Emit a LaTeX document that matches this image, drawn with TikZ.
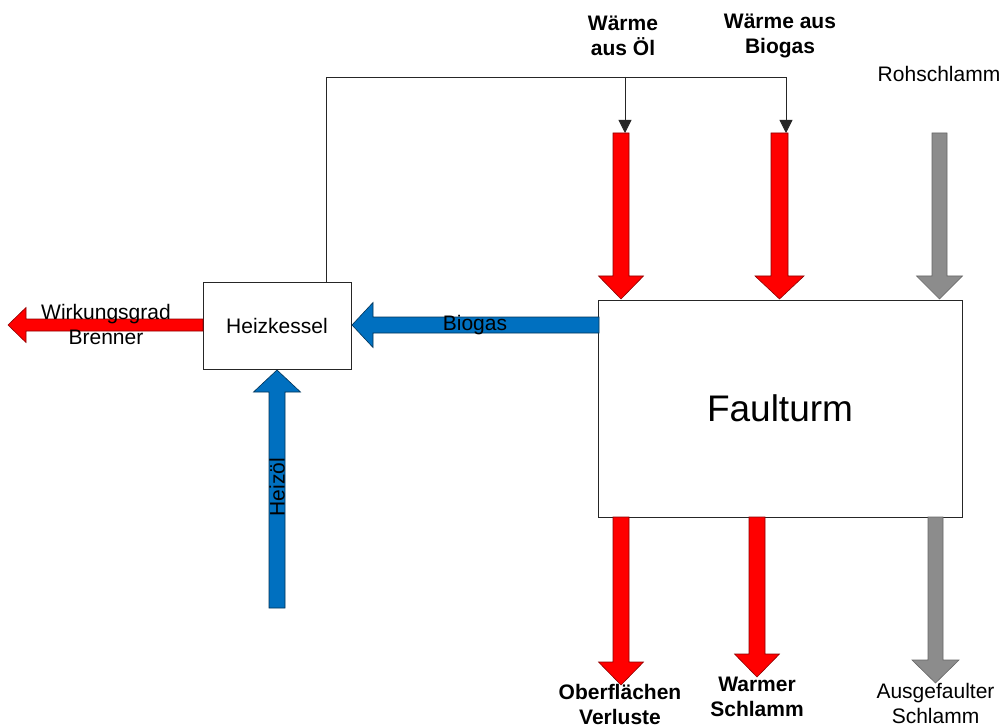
\documentclass[tikz,border=0pt]{standalone}
\usepackage{fontspec}
\setmainfont{Liberation Sans}
\usetikzlibrary{arrows.meta}
\definecolor{fred}{HTML}{FF0000}
\definecolor{fblue}{HTML}{0070C0}
\definecolor{fgray}{HTML}{8C8C8C}
% vertical block arrow: cx, ytail, ybase, ytip, shaft half width, head half width, style
\newcommand\VArrow[7]{%
 \draw[#7] ({#1-#5},#2) -- ({#1-#5},#3) -- ({#1-#6},#3) -- (#1,#4) -- ({#1+#6},#3) -- ({#1+#5},#3) -- ({#1+#5},#2) -- cycle;}
% horizontal block arrow: cy, xtail, xbase, xtip, shaft half width, head half width, style
\newcommand\HArrow[7]{%
 \draw[#7] (#2,{#1-#5}) -- (#3,{#1-#5}) -- (#3,{#1-#6}) -- (#4,#1) -- (#3,{#1+#6}) -- (#3,{#1+#5}) -- (#2,{#1+#5}) -- cycle;}
\tikzset{
  box/.style={draw=black!85, fill=white, line width=0.8pt, inner sep=0pt},
  lbl/.style={font=\fontsize{21}{25}\selectfont, align=center, inner sep=0pt},
  blbl/.style={font=\fontsize{21}{25}\selectfont\bfseries, align=center, inner sep=0pt},
  redarrow/.style={fill=fred, draw=red!55!black, line width=0.6pt},
  bluearrow/.style={fill=fblue, draw=fblue!45!black, line width=0.6pt},
  grayarrow/.style={fill=fgray, draw=black!60, line width=0.6pt},
  conn/.style={draw=black!85, line width=0.8pt},
}
\begin{document}
\begin{tikzpicture}[x=1pt, y=-1pt]
\useasboundingbox[fill=white] (0,0) rectangle (1001,727);

% boxes
\node[box, minimum width=148pt, minimum height=87pt, lbl] (hk) at (277,325.5) {Heizkessel};
\node[box, minimum width=364pt, minimum height=217pt, font=\fontsize{37}{42}\selectfont] (ft) at (780,408.5) {Faulturm};

% thin connectors
\coordinate (up) at (326,77);
\coordinate (tA) at (625,133);
\coordinate (tB) at (786,133);
\draw[conn, -{Triangle[width=13pt,length=13pt]}] (hk.north -| up) |- (tB |- up) -- (tB);
\draw[conn, -{Triangle[width=13pt,length=13pt]}] (tA |- up) -- (tA);

% top input arrows
\VArrow{621}{133}{276}{299}{8}{22.5}{redarrow}
\VArrow{779.5}{133}{276}{299}{8.5}{24.5}{redarrow}
\VArrow{939.5}{133}{276}{299}{7.5}{23}{grayarrow}

% bottom output arrows
\VArrow{621}{517}{662}{685}{8}{22.5}{redarrow}
\VArrow{757}{517}{654}{677}{8}{22.5}{redarrow}
\VArrow{935.5}{517}{660}{683}{7.5}{23.5}{grayarrow}

% Heizoel (up into Heizkessel)
\VArrow{277}{608}{392}{370}{8}{23.5}{bluearrow}
% Biogas (Faulturm -> Heizkessel)
\HArrow{325}{599}{373}{352}{8}{22.5}{bluearrow}
% Wirkungsgrad Brenner (out of Heizkessel)
\HArrow{325}{203}{26}{8}{6}{17.5}{redarrow}

% labels
\node[blbl] (lA) at (623,35.5) {Wärme\\aus Öl};
\node[blbl] (lB) at (780,35.5) {Wärme aus\\Biogas};
\node[lbl] (lR) at (939,74) {Rohschlamm};
\node[lbl] (lW) at (106,324.5) {Wirkungsgrad\\Brenner};
\node[lbl] (lBio) at (475,325) {Biogas};
\node[lbl, rotate=90] (lH) at (277,487) {Heizöl};
\node[blbl] (lO) at (620,704) {Oberflächen\\Verluste};
\node[blbl] (lWS) at (757,697) {Warmer\\Schlamm};
\node[lbl] (lAS) at (935.5,703) {Ausgefaulter\\Schlamm};
\end{tikzpicture}
\end{document}
